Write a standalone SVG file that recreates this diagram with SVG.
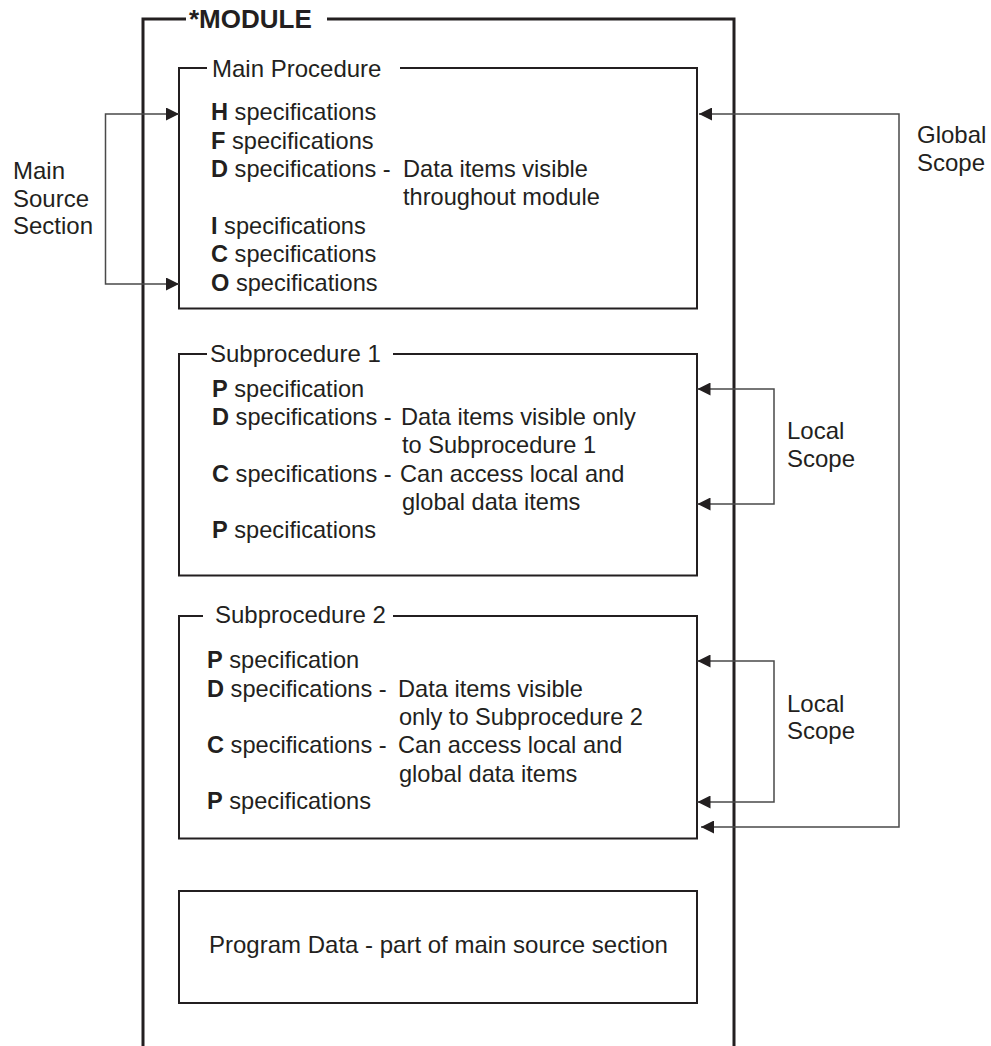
<svg xmlns="http://www.w3.org/2000/svg" width="991" height="1046" viewBox="0 0 991 1046">
<style>
  text { font-family: "Liberation Sans", Arial, sans-serif; font-size: 24px; fill: #231f20; }
  .s { font-size: 23.6px; }
  .b { font-weight: bold; }
  .title { font-weight: bold; font-size: 26px; }
  .module { fill: none; stroke: #231f20; stroke-width: 3; }
  .box { fill: none; stroke: #231f20; stroke-width: 2; }
  .conn { fill: none; stroke: #4a4a4a; stroke-width: 1.5; }
</style>
<defs>
  <marker id="ah" viewBox="0 0 13 13" refX="13" refY="6.5" markerWidth="13" markerHeight="13" markerUnits="userSpaceOnUse" orient="auto-start-reverse">
    <path d="M0,0 L13,6.5 L0,13 z" fill="#231f20"/>
  </marker>
</defs>
<rect width="991" height="1046" fill="#ffffff"/>

<g id="module">
  <path class="module" d="M186,19 H143 V1046"/>
  <path class="module" d="M327,19 H734 V1046"/>
  <text class="title" x="189" y="28">*MODULE</text>
</g>

<g id="main-procedure">
  <path class="box" d="M207,68 H179 V308.5 H697 V68 H400"/>
  <text x="212" y="77">Main Procedure</text>
  <text class="s" x="211" y="120"><tspan class="b">H</tspan> specifications</text>
  <text class="s" x="211" y="148.5"><tspan class="b">F</tspan> specifications</text>
  <text class="s" x="211" y="177"><tspan class="b">D</tspan> specifications -</text>
  <text class="s" x="403" y="177">Data items visible</text>
  <text class="s" x="403" y="205">throughout module</text>
  <text class="s" x="211" y="233.5"><tspan class="b">I</tspan> specifications</text>
  <text class="s" x="211" y="262"><tspan class="b">C</tspan> specifications</text>
  <text class="s" x="211" y="291"><tspan class="b">O</tspan> specifications</text>
</g>

<g id="subprocedure-1">
  <path class="box" d="M207,354 H179 V575.5 H697 V354 H393"/>
  <text x="210" y="362">Subprocedure 1</text>
  <text class="s" x="212" y="397"><tspan class="b">P</tspan> specification</text>
  <text class="s" x="212" y="425"><tspan class="b">D</tspan> specifications -</text>
  <text class="s" x="401" y="425">Data items visible only</text>
  <text class="s" x="402" y="453">to Subprocedure 1</text>
  <text class="s" x="212" y="482"><tspan class="b">C</tspan> specifications -</text>
  <text class="s" x="400" y="482">Can access local and</text>
  <text class="s" x="402" y="510">global data items</text>
  <text class="s" x="212" y="538"><tspan class="b">P</tspan> specifications</text>
</g>

<g id="subprocedure-2">
  <path class="box" d="M203,616 H179 V838.5 H697 V616 H393"/>
  <text x="215" y="623">Subprocedure 2</text>
  <text class="s" x="207" y="668"><tspan class="b">P</tspan> specification</text>
  <text class="s" x="207" y="697"><tspan class="b">D</tspan> specifications -</text>
  <text class="s" x="398" y="697">Data items visible</text>
  <text class="s" x="399" y="725">only to Subprocedure 2</text>
  <text class="s" x="207" y="753"><tspan class="b">C</tspan> specifications -</text>
  <text class="s" x="398" y="753">Can access local and</text>
  <text class="s" x="399" y="782">global data items</text>
  <text class="s" x="207" y="809"><tspan class="b">P</tspan> specifications</text>
</g>

<g id="program-data">
  <rect class="box" x="179" y="891" width="518" height="112"/>
  <text x="209" y="953">Program Data - part of main source section</text>
</g>

<g id="labels">
  <text x="13" y="179">Main</text>
  <text x="13" y="207">Source</text>
  <text x="13" y="234">Section</text>
  <text x="917" y="143">Global</text>
  <text x="917" y="171">Scope</text>
  <text x="787" y="439">Local</text>
  <text x="787" y="467">Scope</text>
  <text x="787" y="712">Local</text>
  <text x="787" y="739">Scope</text>
</g>

<g id="connectors">
  <path class="conn" d="M179,114 H105.5 V284 H179" marker-start="url(#ah)" marker-end="url(#ah)"/>
  <path class="conn" d="M699,114 H899 V827 H701" marker-start="url(#ah)" marker-end="url(#ah)"/>
  <path class="conn" d="M697.5,389 H774 V504 H697.5" marker-start="url(#ah)" marker-end="url(#ah)"/>
  <path class="conn" d="M697.5,661 H774 V802 H697.5" marker-start="url(#ah)" marker-end="url(#ah)"/>
</g>
</svg>
